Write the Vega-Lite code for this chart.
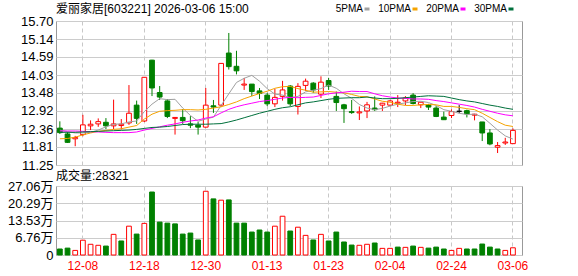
{
  "$schema": "https://vega.github.io/schema/vega-lite/v6.json",
  "background": "white",
  "padding": {"left": 6, "top": 2, "right": 5, "bottom": 0},
  "spacing": 21,
  "bounds": "flush",
  "config": {
    "font": "Liberation Sans, Noto Sans CJK SC",
    "view": {"stroke": "#999999", "strokeWidth": 1},
    "axis": {"gridColor": "#cccccc", "gridWidth": 1, "labelColor": "#000000", "title": null, "labelOverlap": false}
  },
  "datasets": {
    "k": [
      {"d":"12-03","o":12.39,"h":12.60,"l":12.21,"c":12.25,"k":"down","v":2.35,"vk":"down","m5":12.33,"m10":12.06,"m20":12.30,"m30":12.26},
      {"d":"12-04","o":12.21,"h":12.27,"l":11.93,"c":11.95,"k":"down","v":2.7,"vk":"down","m5":12.28,"m10":12.07,"m20":12.30,"m30":12.26},
      {"d":"12-05","o":12.06,"h":12.15,"l":11.83,"c":12.10,"k":"up","v":1.8,"vk":"up","m5":12.24,"m10":12.11,"m20":12.30,"m30":12.26},
      {"d":"12-08","o":12.19,"h":12.80,"l":12.14,"c":12.49,"k":"up","v":5.8,"vk":"up","m5":12.24,"m10":12.18,"m20":12.29,"m30":12.27},
      {"d":"12-09","o":12.46,"h":12.63,"l":12.33,"c":12.51,"k":"up","v":4.2,"vk":"up","m5":12.26,"m10":12.24,"m20":12.28,"m30":12.28},
      {"d":"12-10","o":12.52,"h":12.69,"l":12.43,"c":12.59,"k":"up","v":3.8,"vk":"up","m5":12.33,"m10":12.29,"m20":12.27,"m30":12.29},
      {"d":"12-11","o":12.57,"h":12.70,"l":12.36,"c":12.46,"k":"down","v":3.5,"vk":"down","m5":12.43,"m10":12.32,"m20":12.26,"m30":12.30},
      {"d":"12-12","o":12.46,"h":13.27,"l":12.36,"c":12.52,"k":"up","v":8.1,"vk":"up","m5":12.51,"m10":12.35,"m20":12.25,"m30":12.31},
      {"d":"12-15","o":12.47,"h":12.67,"l":12.35,"c":12.51,"k":"up","v":5.5,"vk":"down","m5":12.52,"m10":12.37,"m20":12.25,"m30":12.32},
      {"d":"12-16","o":12.55,"h":13.72,"l":12.49,"c":12.85,"k":"up","v":11.3,"vk":"up","m5":12.58,"m10":12.42,"m20":12.25,"m30":12.33},
      {"d":"12-17","o":13.10,"h":13.24,"l":12.52,"c":12.69,"k":"down","v":8.2,"vk":"down","m5":12.61,"m10":12.47,"m20":12.27,"m30":12.35},
      {"d":"12-18","o":12.61,"h":13.97,"l":12.58,"c":13.96,"k":"up","v":12.4,"vk":"up","m5":12.90,"m10":12.67,"m20":12.33,"m30":12.38},
      {"d":"12-19","o":14.49,"h":14.50,"l":13.38,"c":13.63,"k":"down","v":24.7,"vk":"down","m5":13.13,"m10":12.82,"m20":12.38,"m30":12.41},
      {"d":"12-22","o":13.49,"h":13.69,"l":13.26,"c":13.35,"k":"down","v":12.9,"vk":"down","m5":13.30,"m10":12.91,"m20":12.43,"m30":12.42},
      {"d":"12-23","o":13.23,"h":13.29,"l":12.70,"c":12.75,"k":"down","v":12.5,"vk":"down","m5":13.27,"m10":12.93,"m20":12.48,"m30":12.44},
      {"d":"12-24","o":12.69,"h":12.73,"l":12.19,"c":12.72,"k":"up","v":12.2,"vk":"down","m5":13.28,"m10":12.94,"m20":12.52,"m30":12.47},
      {"d":"12-25","o":12.72,"h":12.98,"l":12.52,"c":12.62,"k":"down","v":8.2,"vk":"down","m5":13.01,"m10":12.96,"m20":12.57,"m30":12.50},
      {"d":"12-26","o":12.52,"h":12.76,"l":12.39,"c":12.48,"k":"down","v":8.6,"vk":"down","m5":12.78,"m10":12.96,"m20":12.61,"m30":12.51},
      {"d":"12-29","o":12.48,"h":12.58,"l":12.19,"c":12.42,"k":"down","v":5.9,"vk":"down","m5":12.60,"m10":12.95,"m20":12.64,"m30":12.51},
      {"d":"12-30","o":12.42,"h":13.63,"l":12.41,"c":13.10,"k":"up","v":25.0,"vk":"up","m5":12.67,"m10":12.97,"m20":12.70,"m30":12.51},
      {"d":"12-31","o":13.08,"h":13.26,"l":12.86,"c":13.04,"k":"down","v":22.0,"vk":"down","m5":12.73,"m10":13.01,"m20":12.74,"m30":12.52},
      {"d":"01-05","o":13.10,"h":14.40,"l":13.04,"c":14.39,"k":"up","v":21.5,"vk":"up","m5":13.09,"m10":13.05,"m20":12.86,"m30":12.53},
      {"d":"01-06","o":14.71,"h":15.33,"l":14.20,"c":14.29,"k":"down","v":21.6,"vk":"down","m5":13.45,"m10":13.12,"m20":12.97,"m30":12.58},
      {"d":"01-07","o":14.30,"h":14.78,"l":14.05,"c":14.16,"k":"down","v":12.5,"vk":"down","m5":13.80,"m10":13.20,"m20":13.05,"m30":12.64},
      {"d":"01-08","o":13.72,"h":13.94,"l":13.57,"c":13.75,"k":"up","v":12.5,"vk":"down","m5":13.93,"m10":13.30,"m20":13.11,"m30":12.71},
      {"d":"01-09","o":13.75,"h":13.75,"l":13.38,"c":13.52,"k":"down","v":9.0,"vk":"down","m5":14.02,"m10":13.38,"m20":13.16,"m30":12.78},
      {"d":"01-12","o":13.54,"h":13.63,"l":13.29,"c":13.46,"k":"down","v":9.8,"vk":"down","m5":13.84,"m10":13.46,"m20":13.21,"m30":12.85},
      {"d":"01-13","o":13.41,"h":13.48,"l":13.07,"c":13.14,"k":"down","v":9.0,"vk":"down","m5":13.61,"m10":13.53,"m20":13.24,"m30":12.91},
      {"d":"01-14","o":13.14,"h":13.60,"l":13.04,"c":13.34,"k":"up","v":11.3,"vk":"up","m5":13.44,"m10":13.62,"m20":13.28,"m30":12.97},
      {"d":"01-15","o":13.37,"h":13.85,"l":13.24,"c":13.57,"k":"up","v":15.2,"vk":"up","m5":13.41,"m10":13.67,"m20":13.32,"m30":13.02},
      {"d":"01-16","o":13.69,"h":13.72,"l":13.07,"c":13.14,"k":"down","v":9.4,"vk":"down","m5":13.33,"m10":13.68,"m20":13.34,"m30":13.05},
      {"d":"01-19","o":13.06,"h":13.78,"l":12.81,"c":13.68,"k":"up","v":10.9,"vk":"up","m5":13.37,"m10":13.61,"m20":13.33,"m30":13.11},
      {"d":"01-20","o":13.71,"h":13.92,"l":13.54,"c":13.84,"k":"up","v":7.7,"vk":"up","m5":13.51,"m10":13.56,"m20":13.34,"m30":13.17},
      {"d":"01-21","o":13.78,"h":13.81,"l":13.48,"c":13.57,"k":"down","v":5.9,"vk":"down","m5":13.56,"m10":13.50,"m20":13.35,"m30":13.20},
      {"d":"01-22","o":13.44,"h":13.99,"l":13.32,"c":13.81,"k":"up","v":8.1,"vk":"up","m5":13.61,"m10":13.51,"m20":13.40,"m30":13.24},
      {"d":"01-23","o":13.86,"h":13.94,"l":13.57,"c":13.69,"k":"down","v":5.5,"vk":"down","m5":13.72,"m10":13.52,"m20":13.45,"m30":13.28},
      {"d":"01-26","o":13.37,"h":13.52,"l":12.92,"c":13.18,"k":"down","v":9.0,"vk":"down","m5":13.62,"m10":13.50,"m20":13.48,"m30":13.31},
      {"d":"01-27","o":13.11,"h":13.14,"l":12.55,"c":12.99,"k":"down","v":5.1,"vk":"down","m5":13.45,"m10":13.48,"m20":13.50,"m30":13.32},
      {"d":"01-28","o":12.90,"h":13.26,"l":12.83,"c":12.87,"k":"down","v":3.9,"vk":"down","m5":13.31,"m10":13.43,"m20":13.53,"m30":13.33},
      {"d":"01-29","o":12.86,"h":13.06,"l":12.64,"c":12.89,"k":"up","v":3.8,"vk":"up","m5":13.12,"m10":13.37,"m20":13.52,"m30":13.33},
      {"d":"01-30","o":12.92,"h":13.20,"l":12.70,"c":13.11,"k":"up","v":4.2,"vk":"up","m5":13.01,"m10":13.36,"m20":13.52,"m30":13.35},
      {"d":"02-02","o":13.01,"h":13.37,"l":12.92,"c":12.96,"k":"down","v":4.7,"vk":"down","m5":12.96,"m10":13.29,"m20":13.45,"m30":13.32},
      {"d":"02-03","o":13.10,"h":13.17,"l":12.92,"c":13.16,"k":"up","v":2.6,"vk":"up","m5":13.00,"m10":13.22,"m20":13.39,"m30":13.30},
      {"d":"02-04","o":13.10,"h":13.26,"l":13.07,"c":13.23,"k":"up","v":2.6,"vk":"up","m5":13.07,"m10":13.19,"m20":13.35,"m30":13.30},
      {"d":"02-05","o":13.16,"h":13.41,"l":13.04,"c":13.19,"k":"up","v":3.1,"vk":"down","m5":13.13,"m10":13.13,"m20":13.32,"m30":13.31},
      {"d":"02-06","o":13.23,"h":13.38,"l":13.10,"c":13.32,"k":"up","v":3.0,"vk":"up","m5":13.17,"m10":13.09,"m20":13.31,"m30":13.33},
      {"d":"02-09","o":13.41,"h":13.47,"l":13.12,"c":13.15,"k":"down","v":3.5,"vk":"down","m5":13.21,"m10":13.09,"m20":13.29,"m30":13.35},
      {"d":"02-10","o":13.11,"h":13.20,"l":13.01,"c":13.19,"k":"up","v":3.0,"vk":"up","m5":13.22,"m10":13.11,"m20":13.29,"m30":13.37},
      {"d":"02-11","o":13.11,"h":13.14,"l":12.95,"c":13.04,"k":"down","v":2.7,"vk":"down","m5":13.18,"m10":13.12,"m20":13.28,"m30":13.39},
      {"d":"02-12","o":13.01,"h":13.07,"l":12.73,"c":12.75,"k":"down","v":3.1,"vk":"down","m5":13.09,"m10":13.11,"m20":13.24,"m30":13.38},
      {"d":"02-13","o":12.73,"h":12.90,"l":12.64,"c":12.65,"k":"down","v":2.35,"vk":"down","m5":12.96,"m10":13.06,"m20":13.21,"m30":13.37},
      {"d":"02-24","o":12.78,"h":12.97,"l":12.70,"c":12.90,"k":"up","v":1.8,"vk":"up","m5":12.91,"m10":13.06,"m20":13.17,"m30":13.32},
      {"d":"02-25","o":12.91,"h":13.10,"l":12.85,"c":12.91,"k":"flat","v":2.6,"vk":"up","m5":12.85,"m10":13.03,"m20":13.13,"m30":13.27},
      {"d":"02-26","o":12.93,"h":12.96,"l":12.72,"c":12.83,"k":"down","v":2.35,"vk":"down","m5":12.81,"m10":12.99,"m20":13.09,"m30":13.23},
      {"d":"02-27","o":12.79,"h":12.83,"l":12.63,"c":12.82,"k":"up","v":2.35,"vk":"down","m5":12.82,"m10":12.96,"m20":13.04,"m30":13.20},
      {"d":"03-02","o":12.58,"h":12.58,"l":11.99,"c":12.24,"k":"down","v":4.3,"vk":"down","m5":12.74,"m10":12.85,"m20":12.97,"m30":13.15},
      {"d":"03-03","o":12.24,"h":12.36,"l":11.86,"c":11.90,"k":"down","v":3.1,"vk":"down","m5":12.54,"m10":12.72,"m20":12.91,"m30":13.10},
      {"d":"03-04","o":11.80,"h":11.96,"l":11.62,"c":11.85,"k":"up","v":2.35,"vk":"down","m5":12.33,"m10":12.59,"m20":12.85,"m30":13.06},
      {"d":"03-05","o":11.93,"h":12.09,"l":11.87,"c":11.96,"k":"up","v":1.8,"vk":"up","m5":12.15,"m10":12.48,"m20":12.80,"m30":13.01},
      {"d":"03-06","o":11.91,"h":12.38,"l":11.91,"c":12.32,"k":"up","v":2.83,"vk":"up","m5":12.05,"m10":12.44,"m20":12.77,"m30":12.97}
    ]
  },
  "vconcat": [
    {
      "width": 466,
      "height": 144,
      "data": {"name": "k"},
      "title": {"text": "爱丽家居[603221] 2026-03-06 15:00", "anchor": "start", "frame": "group", "fontSize": 12, "fontWeight": "normal", "color": "#000000", "offset": -1},
      "encoding": {
        "x": {
          "field": "d", "type": "ordinal", "sort": null,
          "scale": {"type": "band", "paddingInner": 0.38, "paddingOuter": 0.53, "align": 0.18},
          "axis": {"values": ["12-08","12-18","12-30","01-13","01-23","02-04","02-24","03-06"], "labels": false, "ticks": false, "domain": false, "grid": true, "gridDash": [4, 3], "gridColor": "#c8c8c8", "bandPosition": 0.5, "minExtent": 0, "maxExtent": 0}
        }
      },
      "layer": [
        {
          "mark": {"type": "rule", "strokeWidth": 1},
          "encoding": {
            "y": {"field": "l", "type": "quantitative", "scale": {"domain": [11.25, 15.70], "zero": false, "nice": false},
              "axis": {"values": [11.25, 11.81, 12.36, 12.92, 13.48, 14.03, 14.59, 15.14, 15.70], "tickCount": 20, "format": ".2f", "ticks": false, "domain": false, "labelPadding": 3, "labelFontSize": 13, "labelColor": "#000000", "labelOverlap": false}},
            "y2": {"field": "h"},
            "stroke": {"field": "k", "type": "nominal", "scale": {"domain": ["up", "down", "flat"], "range": ["#ff0000", "#008000", "#000000"]}, "legend": null}
          }
        },
        {
          "mark": {"type": "bar", "strokeWidth": 1},
          "encoding": {
            "y": {"field": "o", "type": "quantitative"},
            "y2": {"field": "c"},
            "stroke": {"field": "k", "type": "nominal", "scale": {"domain": ["up", "down", "flat"], "range": ["#ff0000", "#008000", "#000000"]}, "legend": null},
            "fill": {"field": "k", "type": "nominal", "scale": {"domain": ["up", "down", "flat"], "range": ["#ffffff", "#008000", "#000000"]}, "legend": null}
          }
        },
        {
          "mark": {"type": "line", "strokeWidth": 1},
          "encoding": {
            "y": {"field": "m5", "type": "quantitative"},
            "color": {"datum": "5PMA", "type": "nominal",
              "scale": {"domain": ["5PMA", "10PMA", "20PMA", "30PMA"], "range": ["#a0a0a0", "#f5a300", "#ff00ff", "#00703c"]},
              "legend": {"orient": "none", "legendX": 306, "legendY": -17, "direction": "horizontal", "title": null, "symbolType": "stroke", "symbolSize": 25, "symbolStrokeWidth": 3, "labelFontSize": 10, "labelColor": "#000000", "labelAlign": "right", "labelOffset": -9, "columnPadding": 2}}
          }
        },
        {
          "mark": {"type": "line", "strokeWidth": 1},
          "encoding": {"y": {"field": "m10", "type": "quantitative"}, "color": {"datum": "10PMA", "type": "nominal"}}
        },
        {
          "mark": {"type": "line", "strokeWidth": 1},
          "encoding": {"y": {"field": "m20", "type": "quantitative"}, "color": {"datum": "20PMA", "type": "nominal"}}
        },
        {
          "mark": {"type": "line", "strokeWidth": 1},
          "encoding": {"y": {"field": "m30", "type": "quantitative"}, "color": {"datum": "30PMA", "type": "nominal"}}
        }
      ]
    },
    {
      "width": 466,
      "height": 69,
      "data": {"name": "k"},
      "title": {"text": "成交量:28321", "anchor": "start", "frame": "group", "fontSize": 12, "fontWeight": "normal", "color": "#000000", "offset": -3},
      "mark": {"type": "bar", "strokeWidth": 1},
      "encoding": {
        "x": {
          "field": "d", "type": "ordinal", "sort": null,
          "scale": {"type": "band", "paddingInner": 0.38, "paddingOuter": 0.53, "align": 0.18},
          "axis": {"values": ["12-08","12-18","12-30","01-13","01-23","02-04","02-24","03-06"], "labelAngle": 0, "labelColor": "#ff0000", "labelFontSize": 12, "labelPadding": 5, "ticks": false, "domain": false, "grid": true, "gridDash": [4, 3], "gridColor": "#c8c8c8", "bandPosition": 0.5}
        },
        "y": {"field": "v", "type": "quantitative", "scale": {"domain": [0, 27.06], "nice": false},
          "axis": {"values": [0, 6.765, 13.53, 20.295, 27.06], "tickCount": 20, "labelExpr": "datum.value == 0 ? '0' : format(floor(datum.value * 100 + 0.001) / 100, '.2f') + '万'", "ticks": false, "domain": false, "labelPadding": 3, "labelFontSize": 13, "labelColor": "#000000", "labelOverlap": false}},
        "stroke": {"field": "vk", "type": "nominal", "scale": {"domain": ["up", "down", "flat"], "range": ["#ff0000", "#008000", "#000000"]}, "legend": null},
        "fill": {"field": "vk", "type": "nominal", "scale": {"domain": ["up", "down", "flat"], "range": ["#ffffff", "#008000", "#000000"]}, "legend": null}
      }
    }
  ]
}
